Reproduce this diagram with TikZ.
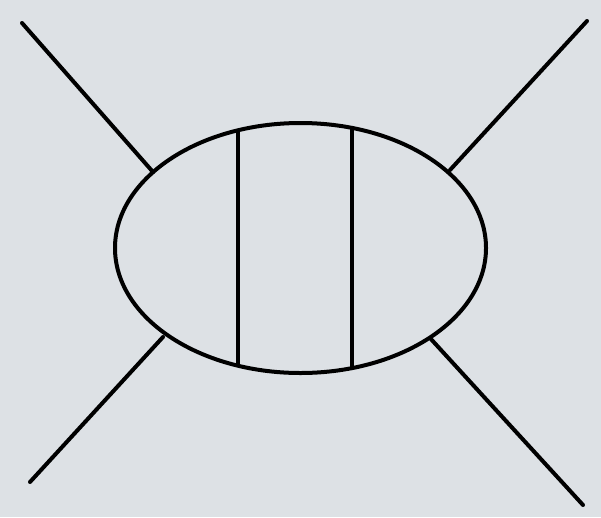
\documentclass[tikz,border=0pt]{standalone}
\usetikzlibrary{shapes.geometric}
\definecolor{bgc}{RGB}{221,225,229}
\begin{document}
\begin{tikzpicture}[x=1pt,y=-1pt,
  edge/.style={line width=4pt,black,line cap=round},
  blob/.style={draw,line width=4pt,ellipse,inner sep=0pt,minimum width=371pt,minimum height=250pt}]
\fill[bgc] (0,0) rectangle (601,517);
\useasboundingbox (0,0) rectangle (601,517);
\node[blob] (e) at (300.5,248) {};
\coordinate (a1) at (22,23);
\coordinate (a2) at (153,172);
\coordinate (b1) at (587,21);
\coordinate (b2) at (450,170);
\coordinate (c1) at (30,482);
\coordinate (c2) at (163,337);
\coordinate (d1) at (583,505);
\coordinate (d2) at (430,338);
\coordinate (v1t) at (238,130.3);
\coordinate (v1b) at (238,365.7);
\coordinate (v2t) at (352,128);
\coordinate (v2b) at (352,368);
\draw[edge] (a1) -- (a2);
\draw[edge] (b1) -- (b2);
\draw[edge] (c1) -- (c2);
\draw[edge] (d1) -- (d2);
\draw[edge,line cap=butt] (v1t) -- (v1b);
\draw[edge,line cap=butt] (v2t) -- (v2b);
\end{tikzpicture}
\end{document}
